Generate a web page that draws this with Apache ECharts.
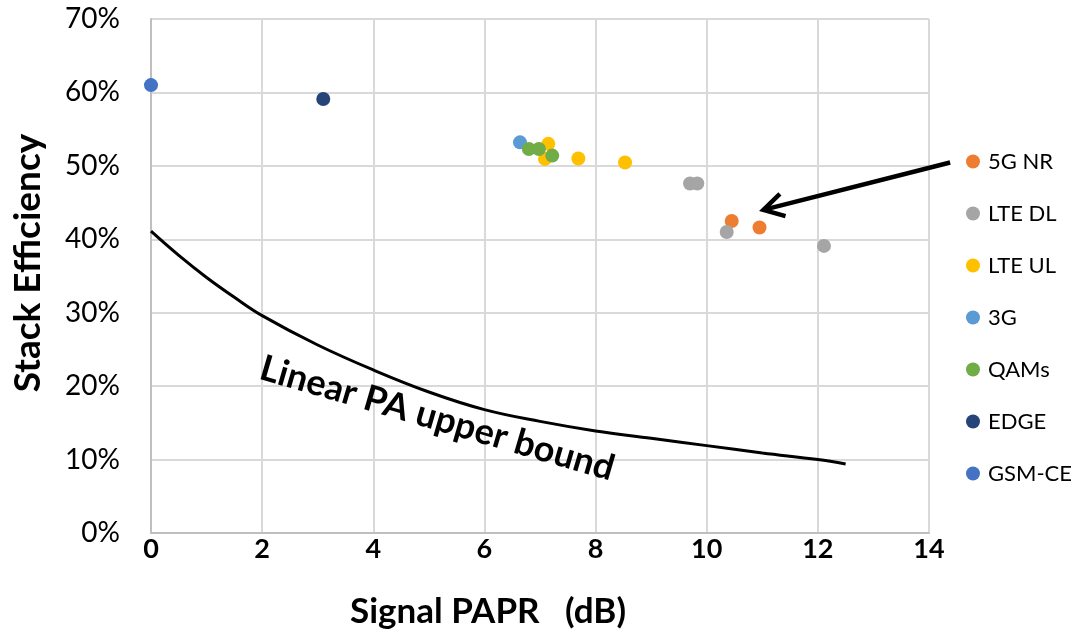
<!DOCTYPE html>
<html>
<head>
<meta charset="utf-8">
<script src="https://cdn.jsdelivr.net/npm/echarts@6/dist/echarts.min.js"></script>
<style>
  html, body { margin: 0; padding: 0; background: #ffffff; }
  #chart { width: 1078px; height: 639px; }
</style>
</head>
<body>
<div id="chart"></div>
<script>
// Stack efficiency (%) versus signal PAPR (dB) for several air interfaces
const FONT = 'Lato, "Open Sans", sans-serif';

const xTicks = { min: 0, max: 14, step: 2 };
const yTicks = { min: 0, max: 70, step: 10 };

const seriesNames  = ['5G NR', 'LTE DL', 'LTE UL', '3G', 'QAMs', 'EDGE', 'GSM-CE'];
const seriesColors = ['#ED7D31', '#A5A5A5', '#FFC000', '#5B9BD5', '#70AD47', '#264478', '#4472C4'];

// [PAPR dB, efficiency %]
const nr5g  = [[10.45, 42.5], [10.95, 41.6]];
const lteDl = [[9.70, 47.6], [9.83, 47.6], [10.36, 41.0], [12.11, 39.1]];
const lteUl = [[7.15, 53.0], [7.09, 50.95], [7.69, 51.0], [8.53, 50.45]];
const g3    = [[6.64, 53.2]];
const qams  = [[6.80, 52.3], [6.98, 52.3], [7.22, 51.4]];
const edge  = [[3.10, 59.1]];
const gsmCe = [[0.00, 61.0]];
const seriesData = [nr5g, lteDl, lteUl, g3, qams, edge, gsmCe];

// Linear PA upper bound curve
const boundPapr = [0, 0.5, 1, 1.5, 2, 3, 4, 5, 6, 7, 8, 9, 10, 11, 12, 12.5];
const boundEff  = [41.1, 37.8, 34.8, 32.1, 29.6, 25.6, 22.2, 19.2, 16.8, 15.2, 13.9, 12.9, 11.9, 10.9, 10.0, 9.4];

// Callout arrow pointing at the 5G NR points (tail, tip) in data units
const arrowTail = [14.38, 50.45];
const arrowTip  = [11.02, 44.0];

// Curve caption anchor in data units
const captionText = 'Linear PA upper bound';
const captionAt = [5.15, 15.6];

const chart = echarts.init(document.getElementById('chart'), null, { renderer: 'canvas' });

const scatterSeries = seriesNames.map((name, i) => ({
  name: name,
  type: 'scatter',
  data: seriesData[i],
  symbol: 'circle',
  symbolSize: 14,
  itemStyle: { color: seriesColors[i], opacity: 1 },
  emphasis: { disabled: true },
  z: 3
}));

const option = {
  animation: false,
  backgroundColor: '#ffffff',
  grid: { left: 151, right: 149, top: 19, bottom: 106, containLabel: false },
  xAxis: {
    type: 'value',
    min: xTicks.min, max: xTicks.max, interval: xTicks.step,
    name: 'Signal PAPR   (dB)',
    nameLocation: 'middle',
    nameGap: 61,
    nameTextStyle: { fontFamily: FONT, fontSize: 35, fontWeight: 'bold', color: '#000000', padding: [0, 104, 0, 0] },
    axisLine: { show: true, lineStyle: { color: '#BFBFBF', width: 2 } },
    axisTick: { show: false },
    axisLabel: { fontFamily: FONT, fontSize: 27, fontWeight: 'bold', color: '#000000', margin: 3 },
    splitLine: { show: true, lineStyle: { color: '#D9D9D9', width: 2 } }
  },
  yAxis: {
    type: 'value',
    min: yTicks.min, max: yTicks.max, interval: yTicks.step,
    name: 'Stack Efficiency',
    nameLocation: 'middle',
    nameGap: 104,
    nameRotate: 90,
    nameTextStyle: { fontFamily: FONT, fontSize: 37, fontWeight: 'bold', color: '#000000', padding: [0, 0, 0, 26] },
    axisLine: { show: true, lineStyle: { color: '#BFBFBF', width: 2 } },
    axisTick: { show: false },
    axisLabel: { fontFamily: FONT, fontSize: 28, color: '#000000', margin: 31, formatter: '{value}%' },
    splitLine: { show: true, lineStyle: { color: '#D9D9D9', width: 2 } }
  },
  legend: {
    data: seriesNames,
    orient: 'vertical',
    left: 961,
    top: 144,
    itemWidth: 14,
    itemHeight: 14,
    itemGap: 27,
    icon: 'circle',
    selectedMode: false,
    textStyle: { fontFamily: FONT, fontSize: 22, color: '#000000', lineHeight: 25, padding: [0, 0, 0, 3] }
  },
  series: [
    {
      name: 'bound',
      type: 'line',
      data: boundPapr.map((x, i) => [x, boundEff[i]]),
      smooth: 0.4,
      showSymbol: false,
      symbol: 'none',
      lineStyle: { color: '#000000', width: 3 },
      emphasis: { disabled: true },
      z: 2
    }
  ].concat(scatterSeries)
};

chart.setOption(option);

// Annotations placed from data coordinates: callout arrow and rotated caption
const tailPx = chart.convertToPixel({ gridIndex: 0 }, arrowTail);
const tipPx  = chart.convertToPixel({ gridIndex: 0 }, arrowTip);
const dx = tailPx[0] - tipPx[0], dy = tailPx[1] - tipPx[1];
const len = Math.sqrt(dx * dx + dy * dy);
const ux = dx / len, uy = dy / len;
const armLen = 23, armAngle = 30 * Math.PI / 180;
function arm(sign) {
  const c = Math.cos(sign * armAngle), s = Math.sin(sign * armAngle);
  return [tipPx[0] + armLen * (ux * c - uy * s), tipPx[1] + armLen * (ux * s + uy * c)];
}
const capPx = chart.convertToPixel({ gridIndex: 0 }, captionAt);

chart.setOption({
  graphic: [
    {
      type: 'line', silent: true, z: 10,
      shape: { x1: tailPx[0], y1: tailPx[1], x2: tipPx[0] + ux * 2, y2: tipPx[1] + uy * 2 },
      style: { stroke: '#000000', lineWidth: 4.5, lineCap: 'butt' }
    },
    {
      type: 'polyline', silent: true, z: 10,
      shape: { points: [arm(1), tipPx, arm(-1)] },
      style: { stroke: '#000000', lineWidth: 4.5, lineJoin: 'miter', lineCap: 'butt', fill: null }
    },
    {
      type: 'text', silent: true, z: 10,
      x: capPx[0], y: capPx[1],
      rotation: -16.2 * Math.PI / 180,
      style: {
        text: captionText,
        fontFamily: FONT, fontSize: 36, fontWeight: 'bold', fill: '#000000',
        align: 'center', verticalAlign: 'middle'
      }
    }
  ]
});
</script>
</body>
</html>
